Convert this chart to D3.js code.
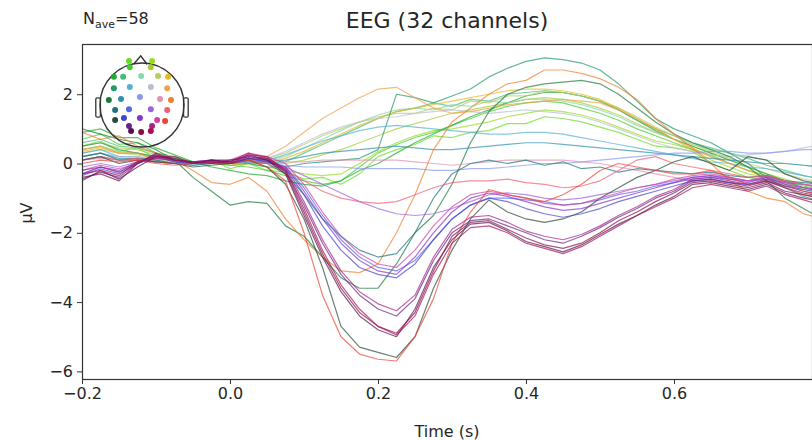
<!DOCTYPE html>
<html>
<head>
<meta charset="utf-8">
<script src="https://cdn.jsdelivr.net/npm/d3@7"></script>
<style>
body { margin: 0; background: #fff; }
svg { display: block; font-family: "DejaVu Sans", sans-serif; }
</style>
</head>
<body>
<svg></svg>
<script>
var width = 812,
    height = 440;

var times = [-0.2, -0.175, -0.15, -0.125, -0.1, -0.075, -0.05, -0.025, 0, 0.025,
    0.05, 0.075, 0.1, 0.125, 0.15, 0.175, 0.2, 0.225, 0.25, 0.275,
    0.3, 0.325, 0.35, 0.375, 0.4, 0.425, 0.45, 0.475, 0.5, 0.525,
    0.55, 0.575, 0.6, 0.625, 0.65, 0.675, 0.7, 0.725, 0.75, 0.775, 0.8];

var xTicks = [-0.2, 0.0, 0.2, 0.4, 0.6];
var yTicks = [-6, -4, -2, 0, 2];

var channelNames = ["Fp1", "Fp2", "AF3", "AF4", "F7", "F3", "Fz", "F4", "F8", "FC5", "FC1", "FC2",
    "FC6", "T7", "C3", "Cz", "C4", "T8", "CP5", "CP1", "CP2", "CP6", "P7", "P3",
    "Pz", "P4", "P8", "PO3", "PO4", "O1", "Oz", "O2"];

var channelColors = ["#66dd22", "#99dd22", "#44cc33", "#aacc33", "#22aa33", "#44bb77", "#88d8b0", "#b8cc66",
    "#e8b820", "#229966", "#55b0d0", "#b8c0d0", "#f0a050", "#1a7a3a", "#3090b0", "#8899ee",
    "#e090b0", "#f08030", "#207080", "#5566ee", "#a060e0", "#f06070", "#2a4a3a", "#4444cc",
    "#8833cc", "#cc44aa", "#ee4433", "#662288", "#aa2288", "#551155", "#881144", "#aa1155"];

// sensor layout, head radius = 1
var sensorX = [-0.31, 0.24, -0.29, 0.21, -0.67, -0.45, -0.02, 0.38, 0.62, -0.67, -0.29, 0.21,
    0.6, -0.79, -0.5, -0.05, 0.43, 0.69, -0.64, -0.31, 0.21, 0.6, -0.64, -0.43,
    -0.05, 0.36, 0.55, -0.31, 0.24, -0.26, -0.02, 0.21];
var sensorY = [-1.05, -1.05, -0.9, -0.9, -0.67, -0.67, -0.69, -0.69, -0.67, -0.4, -0.43, -0.43,
    -0.4, -0.12, -0.14, -0.19, -0.14, -0.12, 0.12, 0.1, 0.1, 0.12, 0.36, 0.31,
    0.31, 0.36, 0.38, 0.5, 0.5, 0.62, 0.64, 0.62];

// µV, one row per channel, same order as channelNames
var evoked = [
    [0.5,0.65,0.35,0.45,0.15,0.2,0.0,0.1,-0.15,0.0,-0.2,-0.25,-0.45,-0.4,-0.6,-0.3,0.2,0.4,0.55,0.8,0.75,0.9,0.95,1.15,1.15,1.35,1.3,1.2,1.05,0.9,0.7,0.5,0.45,0.35,0.0,-0.2,-0.4,-0.5,-0.6,-0.75,-0.8],
    [0.4,0.5,0.3,0.3,0.15,0.1,0.0,0.05,-0.05,0.0,-0.1,-0.2,-0.3,-0.35,-0.3,0.0,0.35,0.6,0.8,0.95,1.0,1.1,1.2,1.35,1.45,1.55,1.5,1.4,1.25,1.05,0.85,0.65,0.55,0.4,0.1,-0.1,-0.3,-0.4,-0.55,-0.7,-0.75],
    [0.7,0.85,0.55,0.6,0.3,0.2,0.05,0.05,-0.05,-0.1,-0.2,-0.35,-0.5,-0.6,-0.5,-0.1,0.3,0.55,0.75,0.9,1.1,1.3,1.5,1.65,1.75,1.8,1.75,1.6,1.45,1.25,1.0,0.8,0.6,0.4,0.25,0.0,-0.2,-0.35,-0.5,-0.65,-0.75],
    [0.5,0.6,0.45,0.4,0.25,0.1,0.05,0.0,0.0,0.05,0.0,0.0,0.1,0.25,0.4,0.6,0.8,1.0,1.15,1.3,1.45,1.55,1.65,1.75,1.85,1.9,1.85,1.75,1.6,1.4,1.15,0.9,0.7,0.5,0.3,0.1,-0.1,-0.3,-0.45,-0.6,-0.7],
    [0.9,1.0,0.75,0.75,0.45,0.25,0.05,-0.1,-0.2,-0.3,-0.35,-0.5,-0.6,-0.65,-0.5,-0.2,0.0,0.3,0.6,0.85,1.1,1.35,1.55,1.75,1.95,2.05,2.05,1.95,1.8,1.55,1.25,0.95,0.7,0.5,0.3,0.1,-0.1,-0.3,-0.5,-0.7,-0.8],
    [0.6,0.7,0.5,0.45,0.3,0.15,0.05,0.0,-0.05,0.0,0.0,0.05,0.3,0.55,0.8,1.05,1.3,1.5,1.6,1.75,1.65,1.85,1.8,2.0,2.05,2.1,2.05,1.95,1.8,1.55,1.25,1.0,0.8,0.6,0.45,0.3,0.15,-0.05,-0.2,-0.35,-0.45],
    [0.4,0.5,0.35,0.3,0.2,0.1,0.05,0.05,0.0,0.05,0.1,0.2,0.45,0.7,0.95,1.2,1.4,1.55,1.6,1.55,1.7,1.65,1.8,1.75,1.85,1.85,1.8,1.7,1.55,1.35,1.1,0.9,0.7,0.55,0.4,0.3,0.2,0.1,0.0,-0.05,-0.1],
    [0.3,0.4,0.3,0.25,0.15,0.05,0.0,0.05,0.0,0.1,0.15,0.3,0.55,0.8,1.0,1.2,1.35,1.45,1.45,1.6,1.55,1.8,1.75,1.95,1.95,2.1,2.05,1.95,1.8,1.6,1.35,1.05,0.8,0.55,0.35,0.15,0.0,-0.15,-0.3,-0.45,-0.55],
    [0.35,0.45,0.3,0.3,0.15,0.05,0.0,0.0,-0.05,0.0,0.05,0.15,0.35,0.6,0.85,1.1,1.3,1.5,1.6,1.7,1.8,1.9,2.0,2.1,2.15,2.15,2.1,2.0,1.85,1.6,1.3,1.0,0.7,0.45,0.2,0.0,-0.2,-0.4,-0.6,-0.8,-0.95],
    [0.5,0.6,0.4,0.3,0.2,0.1,0.05,0.0,0.05,0.0,-0.1,-0.1,0.0,0.05,0.1,0.15,0.4,2.0,1.9,1.75,1.95,2.15,2.5,2.75,2.95,3.05,3.0,2.9,2.7,2.3,1.8,1.3,1.0,0.8,0.6,0.3,0.0,-0.4,-0.7,-0.95,-1.1],
    [0.3,0.4,0.2,0.2,0.1,0.0,0.0,0.05,0.0,0.05,0.1,0.25,0.45,0.65,0.8,0.95,1.05,1.1,1.05,1.0,0.95,0.9,0.85,0.85,0.9,0.9,0.85,0.75,0.65,0.55,0.45,0.35,0.25,0.15,0.05,0.0,-0.1,-0.15,-0.25,-0.35,-0.45],
    [0.2,0.3,0.2,0.2,0.1,0.05,0.0,0.05,0.0,0.1,0.15,0.35,0.6,0.85,1.05,1.2,1.3,1.35,1.45,1.5,1.55,1.5,1.45,1.5,1.55,1.5,1.45,1.35,1.2,1.0,0.8,0.6,0.45,0.35,0.25,0.2,0.25,0.3,0.35,0.45,0.55],
    [0.4,0.5,0.3,0.3,0.1,0.0,0.0,0.05,0.0,0.1,0.2,0.5,0.9,1.3,1.6,1.9,2.15,2.2,1.9,1.6,1.45,1.5,1.6,1.7,1.75,1.8,1.85,1.8,1.75,1.55,1.3,1.0,0.7,0.4,0.2,0.0,-0.2,-0.4,-0.6,-0.8,-0.9],
    [1.0,0.85,0.7,0.6,0.4,0.1,-0.4,-0.8,-1.2,-1.1,-1.15,-1.8,-2.1,-2.7,-3.3,-3.6,-3.6,-2.9,-2.0,-1.5,-0.6,0.6,1.5,2.0,2.2,2.3,2.35,2.4,2.3,2.0,1.6,1.2,0.85,0.6,0.4,0.2,-0.1,-0.5,-1.0,-1.3,-1.6],
    [0.2,0.3,0.15,0.15,0.05,0.0,-0.05,0.0,0.0,0.05,0.05,0.1,0.2,0.3,0.35,0.4,0.45,0.5,0.45,0.4,0.4,0.45,0.5,0.55,0.6,0.6,0.55,0.5,0.45,0.4,0.35,0.3,0.25,0.2,0.15,0.1,0.05,0.0,0.0,-0.05,-0.1],
    [0.1,0.2,0.1,0.1,0.05,0.0,0.0,0.0,0.0,0.05,0.0,-0.05,-0.1,-0.1,-0.1,-0.15,-0.15,-0.15,-0.15,-0.2,-0.2,-0.15,-0.15,-0.1,-0.05,0.0,0.0,0.05,0.1,0.15,0.2,0.25,0.3,0.3,0.35,0.35,0.3,0.3,0.35,0.4,0.4],
    [0.1,0.15,0.1,0.1,0.05,0.0,0.05,0.05,0.05,0.1,0.1,0.05,0.05,0.1,0.1,0.1,0.1,0.1,0.05,0.0,-0.05,0.0,0.05,0.1,0.1,0.1,0.1,0.05,0.0,-0.1,-0.2,-0.3,-0.4,-0.5,-0.5,-0.55,-0.6,-0.55,-0.65,-0.7,-0.75],
    [0.9,0.7,0.8,0.5,0.3,0.1,-0.2,-0.55,-0.6,-0.4,-0.8,-1.6,-2.2,-2.7,-3.1,-3.15,-2.9,-2.0,-0.9,0.4,1.2,1.6,2.0,2.3,2.4,2.7,2.7,2.6,2.45,2.2,1.85,1.3,0.85,0.45,0.0,-0.5,-0.8,-1.0,-1.1,-1.45,-1.6],
    [0.2,0.3,0.1,0.15,0.1,0.0,-0.05,0.0,0.0,0.1,0.0,-0.3,-0.9,-1.6,-2.1,-2.5,-2.7,-2.6,-2.0,-1.0,-0.3,0.0,0.1,0.0,0.1,-0.05,0.05,-0.15,-0.1,-0.25,-0.15,-0.2,-0.25,-0.3,-0.25,-0.35,-0.4,-0.35,-0.5,-0.55,-0.6],
    [-0.3,-0.1,-0.25,0.0,0.2,0.05,0.0,0.05,0.0,0.15,0.05,-0.1,-0.7,-1.5,-2.2,-2.7,-3.0,-3.1,-2.8,-2.2,-1.6,-1.2,-1.0,-1.0,-1.05,-1.1,-1.2,-1.15,-1.05,-0.9,-0.8,-0.65,-0.55,-0.45,-0.4,-0.45,-0.5,-0.45,-0.55,-0.6,-0.7],
    [-0.1,0.0,-0.1,0.05,0.15,0.1,0.05,0.1,0.1,0.15,0.05,-0.1,-0.35,-0.6,-0.85,-1.1,-1.3,-1.45,-1.5,-1.45,-1.3,-1.1,-0.9,-0.85,-0.9,-1.0,-1.05,-1.0,-0.9,-0.8,-0.7,-0.6,-0.5,-0.4,-0.35,-0.4,-0.5,-0.4,-0.5,-0.6,-0.65],
    [0.1,0.2,0.1,0.15,0.05,0.0,0.0,0.05,0.05,0.1,0.0,-0.2,-0.5,-0.8,-1.0,-1.1,-1.15,-1.1,-0.9,-0.7,-0.55,-0.5,-0.5,-0.45,-0.55,-0.6,-0.7,-0.65,-0.5,-0.2,0.1,0.2,0.0,-0.1,-0.2,-0.3,-0.4,-0.35,-0.5,-0.6,-0.7],
    [0.1,0.2,0.0,0.1,0.05,0.0,-0.1,-0.05,0.0,0.1,-0.1,-0.6,-1.6,-3.0,-4.7,-5.3,-5.45,-5.6,-5.0,-3.6,-2.5,-1.6,-1.05,-1.4,-1.6,-1.7,-1.6,-1.4,-1.0,-0.7,-0.4,-0.2,0.05,0.2,0.0,-0.2,0.2,0.1,-0.3,-0.5,-0.6],
    [-0.35,-0.15,-0.3,0.0,0.2,0.05,0.0,0.05,0.0,0.15,0.05,-0.15,-0.9,-1.8,-2.5,-3.0,-3.2,-3.3,-2.9,-2.2,-1.6,-1.2,-1.0,-1.1,-1.3,-1.45,-1.55,-1.45,-1.3,-1.1,-0.95,-0.8,-0.65,-0.5,-0.45,-0.55,-0.6,-0.5,-0.65,-0.75,-0.85],
    [-0.3,-0.1,-0.2,0.05,0.25,0.1,0.0,0.05,0.0,0.2,0.1,-0.1,-0.8,-1.6,-2.3,-2.8,-3.1,-3.2,-2.7,-2.0,-1.4,-1.0,-0.85,-0.95,-1.1,-1.25,-1.35,-1.3,-1.15,-1.0,-0.85,-0.7,-0.55,-0.4,-0.35,-0.45,-0.55,-0.4,-0.6,-0.7,-0.8],
    [-0.2,-0.05,-0.15,0.0,0.2,0.1,0.05,0.1,0.1,0.3,0.2,0.0,-0.6,-1.4,-2.1,-2.6,-2.9,-3.0,-2.5,-1.8,-1.25,-0.9,-0.8,-0.9,-1.0,-1.15,-1.2,-1.15,-1.0,-0.85,-0.7,-0.6,-0.45,-0.35,-0.3,-0.4,-0.5,-0.35,-0.55,-0.7,-0.75],
    [0.0,0.1,0.05,0.1,0.0,-0.05,0.0,0.05,0.0,0.1,-0.1,-0.5,-2.0,-3.8,-5.0,-5.5,-5.65,-5.7,-5.0,-3.9,-2.3,-1.4,-0.75,-0.9,-1.0,-1.1,-0.9,-0.6,-0.2,0.0,-0.1,-0.2,-0.3,-0.3,-0.2,-0.4,-0.6,-0.5,-0.7,-0.9,-1.0],
    [-0.45,-0.25,-0.4,0.0,0.3,0.1,0.05,0.1,0.0,0.15,0.1,-0.2,-1.2,-2.3,-3.2,-3.8,-4.2,-4.4,-3.9,-2.8,-2.0,-1.65,-1.6,-1.8,-2.0,-2.2,-2.3,-2.1,-1.85,-1.55,-1.3,-1.0,-0.8,-0.5,-0.45,-0.55,-0.65,-0.5,-0.7,-0.85,-0.95],
    [-0.2,-0.1,-0.25,0.05,0.15,0.1,0.0,0.1,0.05,0.3,0.15,-0.15,-1.1,-2.2,-3.1,-3.7,-4.05,-4.25,-3.8,-2.7,-1.9,-1.55,-1.5,-1.7,-1.95,-2.1,-2.2,-2.05,-1.8,-1.5,-1.25,-0.95,-0.75,-0.45,-0.4,-0.5,-0.6,-0.45,-0.65,-0.8,-0.9],
    [-0.5,-0.2,-0.45,-0.1,0.2,0.15,0.0,0.1,0.05,0.25,0.1,-0.3,-1.5,-2.7,-3.7,-4.4,-4.8,-5.0,-4.2,-3.0,-2.2,-1.75,-1.7,-1.95,-2.25,-2.4,-2.55,-2.35,-2.05,-1.75,-1.5,-1.2,-0.95,-0.6,-0.55,-0.65,-0.75,-0.6,-0.85,-1.0,-1.1],
    [-0.4,-0.3,-0.5,0.0,0.25,0.1,0.05,0.0,0.1,0.2,0.15,-0.25,-1.4,-2.6,-3.6,-4.3,-4.7,-4.9,-4.3,-3.1,-2.1,-1.7,-1.65,-1.9,-2.15,-2.35,-2.45,-2.3,-2.0,-1.65,-1.4,-1.1,-0.85,-0.55,-0.5,-0.6,-0.7,-0.55,-0.8,-0.9,-1.0],
    [-0.3,-0.2,-0.35,0.05,0.2,0.2,0.0,0.05,0.0,0.25,0.2,-0.2,-1.3,-2.5,-3.5,-4.2,-4.7,-4.95,-4.4,-3.2,-2.3,-1.85,-1.8,-2.0,-2.3,-2.45,-2.6,-2.4,-2.1,-1.8,-1.5,-1.25,-1.0,-0.7,-0.6,-0.7,-0.8,-0.65,-0.9,-1.05,-1.2]
];

var plotLeft = 82, plotTop = 44, plotRight = 812, plotBottom = 379;

var svg = d3.select("svg")
    .attr("width", width)
    .attr("height", height);

var x = d3.scaleLinear().domain([-0.2, 0.7865]).range([plotLeft, plotRight]);
var y = d3.scaleLinear().domain([-6.22, 3.45]).range([plotBottom, plotTop]);

svg.append("defs").append("clipPath")
    .attr("id", "plotArea")
    .append("rect")
    .attr("x", plotLeft).attr("y", plotTop)
    .attr("width", plotRight - plotLeft).attr("height", plotBottom - plotTop);

var line = d3.line()
    .x(function (d, i) { return x(times[i]); })
    .y(function (d) { return y(d); });

svg.append("g")
    .attr("clip-path", "url(#plotArea)")
    .selectAll("path")
    .data(evoked)
    .enter()
    .append("path")
    .attr("d", line)
    .attr("fill", "none")
    .attr("stroke", function (d, i) { return channelColors[i]; })
    .attr("stroke-width", 1.2)
    .attr("stroke-opacity", 0.7)
    .attr("stroke-linejoin", "round");

var xAxis = svg.append("g")
    .attr("transform", "translate(0," + plotBottom + ")")
    .call(d3.axisBottom(x).tickValues(xTicks).tickFormat(d3.format(".1f")).tickSize(5).tickPadding(4));

var yAxis = svg.append("g")
    .attr("transform", "translate(" + plotLeft + ",0)")
    .call(d3.axisLeft(y).tickValues(yTicks).tickFormat(d3.format("d")).tickSize(5).tickPadding(4));

[xAxis, yAxis].forEach(function (ax) {
    ax.select(".domain").remove();
    ax.selectAll("line").attr("stroke", "#333");
    ax.selectAll("text")
        .attr("fill", "#262626")
        .style("font-family", "DejaVu Sans")
        .style("font-size", "16px");
});

svg.append("rect")
    .attr("x", plotLeft + 0.5).attr("y", plotTop + 0.5)
    .attr("width", plotRight - plotLeft).attr("height", plotBottom - plotTop)
    .attr("fill", "none")
    .attr("stroke", "#333")
    .attr("stroke-width", 1.2);

// labels
svg.append("text")
    .attr("x", (plotLeft + plotRight) / 2).attr("y", 28)
    .attr("text-anchor", "middle")
    .attr("fill", "#262626")
    .style("font-size", "22px")
    .text("EEG (32 channels)");

var nave = svg.append("text")
    .attr("x", plotLeft + 1).attr("y", 24)
    .attr("fill", "#262626")
    .style("font-size", "16px");
nave.append("tspan").text("N");
nave.append("tspan").attr("dy", 4).style("font-size", "11px").text("ave");
nave.append("tspan").attr("dy", -4).text("=58");

svg.append("text")
    .attr("x", (plotLeft + plotRight) / 2).attr("y", 437)
    .attr("text-anchor", "middle")
    .attr("fill", "#262626")
    .style("font-size", "16px")
    .text("Time (s)");

svg.append("text")
    .attr("transform", "translate(32,213) rotate(-90)")
    .attr("text-anchor", "middle")
    .attr("fill", "#262626")
    .style("font-size", "16px")
    .text("µV");

// sensor head inset
var hx = d3.scaleLinear().domain([-1, 1]).range([100, 184]);
var hy = d3.scaleLinear().domain([-1, 1]).range([63, 147]);

var head = svg.append("g");

head.append("circle")
    .attr("cx", hx(0)).attr("cy", hy(0))
    .attr("r", hx(1) - hx(0))
    .attr("fill", "none")
    .attr("stroke", "#333")
    .attr("stroke-width", 1.4);

head.append("path")
    .attr("d", d3.line()([[hx(-0.2), hy(-0.97)], [hx(-0.03), hy(-1.17)], [hx(0.12), hy(-0.97)]]))
    .attr("fill", "none")
    .attr("stroke", "#333")
    .attr("stroke-width", 1.4);

[-1, 1].forEach(function (side) {
    head.append("rect")
        .attr("x", side < 0 ? hx(-1.1) : hx(0.99))
        .attr("y", hy(-0.17))
        .attr("width", hx(0.11) - hx(0))
        .attr("height", hy(0.29) - hy(-0.17))
        .attr("rx", 1.5)
        .attr("fill", "none")
        .attr("stroke", "#333")
        .attr("stroke-width", 1.3);
});

head.selectAll(".sensor")
    .data(channelNames)
    .enter()
    .append("circle")
    .attr("class", "sensor")
    .attr("cx", function (d, i) { return hx(sensorX[i]); })
    .attr("cy", function (d, i) { return hy(sensorY[i]); })
    .attr("r", 3)
    .attr("fill", function (d, i) { return channelColors[i]; });
</script>
</body>
</html>
